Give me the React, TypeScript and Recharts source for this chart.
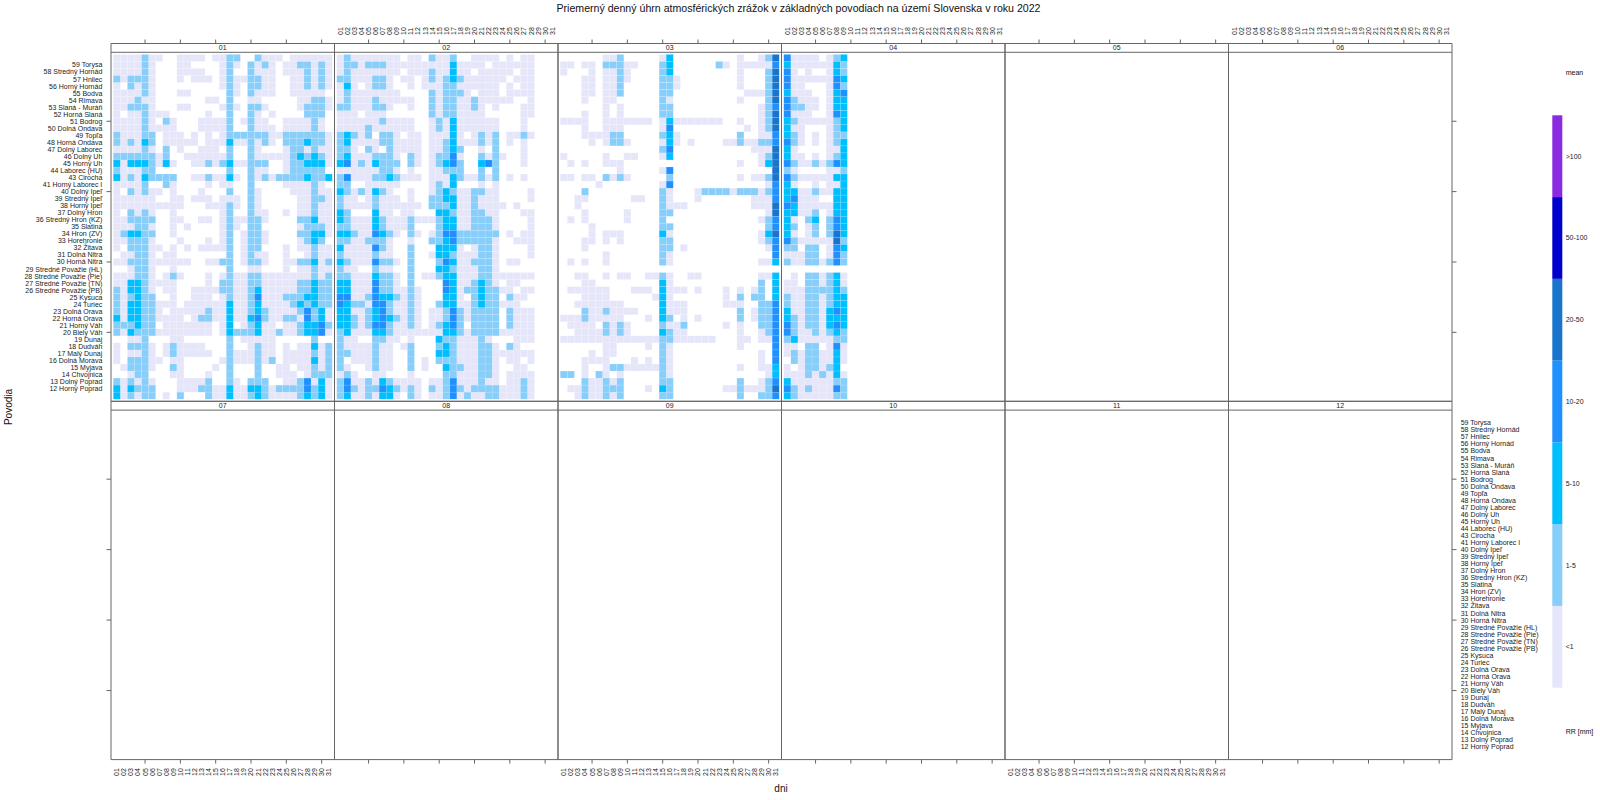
import { ScatterChart, Scatter, XAxis, YAxis, ReferenceLine, BarChart, Bar } from 'recharts'

const basins = [
  '59 Torysa', '58 Stredný Hornád', '57 Hnilec', '56 Horný Hornád', '55 Bodva', '54 Rimava', '53 Slaná - Muráň', '52 Horná Slaná',
  '51 Bodrog', '50 Dolná Ondava', '49 Topľa', '48 Horná Ondava', '47 Dolný Laborec', '46 Dolný Uh', '45 Horný Uh', '44 Laborec (HU)',
  '43 Cirocha', '41 Horný Laborec I', '40 Dolný Ipeľ', '39 Stredný Ipeľ', '38 Horný Ipeľ', '37 Dolný Hron', '36 Stredný Hron (KZ)',
  '35 Slatina', '34 Hron (ZV)', '33 Horehronie', '32 Žitava', '31 Dolná Nitra', '30 Horná Nitra', '29 Stredné Považie (HL)',
  '28 Stredné Považie (Pie)', '27 Stredné Považie (TN)', '26 Stredné Považie (PB)', '25 Kysuca', '24 Turiec', '23 Dolná Orava',
  '22 Horná Orava', '21 Horný Váh', '20 Biely Váh', '19 Dunaj', '18 Dudváh', '17 Malý Dunaj', '16 Dolná Morava', '15 Myjava',
  '14 Chvojnica', '13 Dolný Poprad', '12 Horný Poprad',
]

const levelLabels = ['<1', '1-5', '5-10', '10-20', '20-50', '50-100', '>100']
const levelColors = ['#E6E6FA', '#87CEFA', '#00BFFF', '#1E90FF', '#1874CD', '#0000CD', '#8A2BE2']
const months = ['01', '02', '03', '04', '05', '06', '07', '08', '09', '10', '11', '12']
const days = Array.from({ length: 31 }, (_, i) => i + 1)

// one string per row, top to bottom, one character per day: '.' = no rain, digit = index into levelLabels
const jan = [
  '0000100..0000.0011..1000.000000.',
  '000010...00....010.1010.0011010',
  '000010...0000..01..1000.0001010',
  '101110...0.000.01001100..001010',
  '0.1010.........010.1100..001010',
  '000010...00.....10.1000..00000.',
  '000100.......00.1..00.....00110',
  '001110...00....010.110....01110',
  '0.001000.....0..1..10.0....111.',
  '000010.10...00001.0100..000010.',
  '000010000...00001..1000.000010.',
  '100011.000.0.0.0111111001111110',
  '101021.00000.0002001010.1112110',
  '000010.1.0..000.1..10...0110100',
  '11111101..0000001..100000121210',
  '202221020..00101200111..0112220',
  '100011..........1..100..011111.',
  '201021111..0010020.101011112112',
  '00001..10....0.00..1....000010.',
  '0.10100.0...0...1..10....000100',
  '000000..00.000.000.10.....00110',
  '0000000000...00010.10.....00100',
  '0.1010..0......01..100..0.00100',
  '001111..00..00.0100110....11200',
  '000110..0.0....010.11.....01110',
  '012211..0......01.0110....11220',
  '001110...0...0.01.0110....0121.',
  '0.11100.0.0.00001.011...0.00100',
  '.00110.00.......1.0100..0..0100',
  '00111000000..0011.0110..0011201',
  '..0110..0.......1..00...0.00100',
  '000110.010...0.0100110000000101',
  '002210000....0.1100110000011211',
  '102210.00..00001100120000011211',
  '101211..0..000.0100130001112211',
  '102211000.000000200120000121211',
  '1022110.00000100200121000013120',
  '2022110000.01100200231001103120',
  '111211.0000000.02.01200.0012231',
  '10211100000000.0211120010012230',
  '..001...00......1.00000.....1..',
  '0.1110.010000...1..0100.0.00201',
  '0.0010.0100000..1000100.0000101',
  '0.11100.00.....01000101.0000201',
  '.01110..10....0.1...1..00.00101',
  '..011...00...0..1...1..000.0111',
  '101010...00001..10.111..0013020',
  '202111...0001100200221011113120',
  '201011.0.1...100200121000012120',
]

const feb = [
  '010000000.00.1001..0000.0.00',
  '011011100000000020000.000000',
  '010000000.000100200.00000.00',
  '11000110.00.010121000000.000',
  '020.0110..0.00011000000.0.00',
  '010000000....101110.000.0000',
  '01000100000..101100100000..0',
  '11000110..0..10110010.0...00',
  '000.000......10110000.....00',
  '00000010000..0102000000...0.',
  '00001000000..0102000000...0.',
  '12101.110.00.00020.0101.0010',
  '120000110000.0012000101.0.0.',
  '110.10.10000.00121..0.1...0.',
  '120001110.10.01130..1010..0.',
  '230102111.10.01231..231...0.',
  '000000110.0..00111..1.1.....',
  '130001121000.0002100101.0.0.',
  '11..00000....0102...0.0.....',
  '21010210..0..0121001100....0',
  '100.01000.0..1122001000....0',
  '100001000000.11120010000.0..',
  '21...200.00...221001100...00',
  '21000210001000122001110....0',
  '11000210001...122001110....0',
  '221003210.10.0133111111.0.00',
  '11001110..0..1123111110..000',
  '20000310..1...2220.0110....0',
  '10000100..1..0221000110....0',
  '210003110.1...132001110.00..',
  '100..100..1...221000110.....',
  '110002110.1.0012200011000000',
  '220003110.1....32001210.00..',
  '220003110010...3201121100.00',
  '330013221010...220.1211.100.',
  '321103310010..122001211000..',
  '220012310010.0013101111.1000',
  '221012321010.0013101111.1000',
  '221013310010.01231.1111.1000',
  '1200022100000002210111100000',
  '100..1100.0...21100010...000',
  '10000100.01...121000110.10..',
  '11000100..1...22100011000000',
  '1.000100..1.0.111000110.00.0',
  '10..0100..1.0..21100110..00.',
  '010..00...0....11000110.0000',
  '130010210000.0013000100.0010',
  '131011321010.101310111100010',
  '120010220.10.001301001100010',
]

const mar = [
  '......001.....02.........0..014',
  '00.00.11100...12......10.000003',
  '0...0.0010....12.........0...14',
  '...00.0010....110........0...14',
  '...00.001.....110........0...14',
  '...00.001.....11..........00014',
  '...0..00......10.........0...14',
  '......0.0.....11............013',
  '...0..0.0.....11............014',
  '0000..0000000.020000000..0..014',
  '...0..000.....03..........0.014',
  '...000011.....120........1..003',
  '....0.0110....020.0....00100113',
  '..............13...........0004',
  '0.....0..00...02............014',
  '.0.0..000................0..024',
  '........0.....03..............4',
  '00.00.1010.....1.........0.0014',
  '.....0........03.............03',
  '...1..........10...011110111013',
  '..00......00..10...0.......0003',
  '..0...........1000.........0004',
  '...0.....0....11.............04',
  '.0.0.....0....1.............013',
  '....0.........11.............13',
  '....0.000.....20............024',
  '...00.0.0.....11............013',
  '...0..........11.0...........03',
  '......0.......10..............3',
  '.0.0..0.......10............002',
  '...............................',
  '..00..0.00..0010..00........002',
  '...00.........20............1.2',
  '.000000...000.2000.0...0.0.01.2',
  '...0000......020.......0.1.11.2',
  '..0000000.....2000.....000..113',
  '...10010000...2000.......1.0113',
  '000100000...0.21.0.0.....1.0113',
  '.0000.1010....1001.....0.0..113',
  '..00001010....2100.......0..013',
  '0000000000000011000000...00.003',
  '......00....0.10.........0....3',
  '....0.00......10............0.3',
  '...0000...0.0.10............0.3',
  '...0..0110000010.........0..002',
  '11.0.10.0.....10.............02',
  '...100101.....11.........1..013',
  '.00100111...0.21.......00100014',
  '..0100101.....11.........1..113',
]

const apr = [
  '30000.012', '200000021', '30.0..021', '300000032', '300...031', '2000..023', '31000.022',
  '31100.022', '3000..032', '210000012', '200...012', '210.0.011', '310.0.012', '20....002',
  '200.0.012', '310010132', '10....001', '310000022', '20..0.002', '220010022', '23000..22',
  '320000022', '22001.022', '20.12.132', '21.01.132', '20.01.142', '310000041', '11.11.032',
  '00011.031', '100110131', '.........', '.0.110120', '00.110120', '000111121', '100110122',
  '100110122', '200110232', '210110222', '310110232', '310010121', '120000011', '00.11.030',
  '010110020', '.10110020', '0.011012.', '000101020', '200000011', '310100031', '210000011',
]

const monthRows: string[][] = [jan, feb, mar, apr]

// keeps the axes alive in the months that have no data yet, draws nothing
const axisAnchors = [
  { day: 1, row: 1 },
  { day: 31, row: 49 },
]

const panelLeft = 111
const panelWidth = 223.5
const rowEdges = [43.5, 401.3, 759.6]
const cellW = 7.06
const cellH = 7.04
const textColor = '#222'
const lineColor = '#666'
const font = 'Liberation Sans, Arial, sans-serif'

function cellsFor(rows: string[] | undefined, level: number) {
  const out: { day: number; row: number }[] = []
  ;(rows || []).forEach((s, r) => {
    s.split('').forEach((c, d) => {
      if (c === String(level)) out.push({ day: d + 1, row: 49 - r })
    })
  })
  return out
}

function CellShape(props: any) {
  return (
    <rect
      x={props.cx - cellW / 2}
      y={props.cy - cellH / 2}
      width={cellW}
      height={cellH}
      fill={props.fill}
      stroke="#fff"
      strokeOpacity={0.25}
      strokeWidth={0.5}
    />
  )
}

function XTick({ x, y, payload, side, showLabel }: any) {
  const day = payload.value
  const dir = side === 'top' ? -1 : 1
  const labelY = y + dir * 8.5
  return (
    <g>
      {day % 5 === 0 && <line x1={x} x2={x} y1={y} y2={y + dir * 4} stroke={lineColor} />}
      {showLabel && (
        <text
          x={x}
          y={labelY}
          transform={`rotate(-90 ${x} ${labelY})`}
          textAnchor={side === 'top' ? 'start' : 'end'}
          dominantBaseline="central"
          fontSize={7}
          fontFamily={font}
          fill={textColor}
        >
          {String(day).padStart(2, '0')}
        </text>
      )}
    </g>
  )
}

function YTick({ x, y, payload, side, showLabel }: any) {
  const row = payload.value
  const dir = side === 'left' ? -1 : 1
  return (
    <g>
      {row % 10 === 0 && <line x1={x} x2={x + dir * 4.5} y1={y} y2={y} stroke={lineColor} />}
      {showLabel && (
        <text
          x={x + dir * 8.7}
          y={y}
          textAnchor={side === 'left' ? 'end' : 'start'}
          dominantBaseline="central"
          fontSize={7}
          fontFamily={font}
          fill={textColor}
        >
          {basins[48 - row]}
        </text>
      )}
    </g>
  )
}

function Panel({ index }: { index: number }) {
  const col = index % 6
  const rowIdx = index < 6 ? 0 : 1
  const left = panelLeft + col * panelWidth
  const top = rowEdges[rowIdx]
  const bottom = rowEdges[rowIdx + 1]
  const xSide = rowIdx === 0 ? 'top' : 'bottom'
  const showX = col % 2 === (rowIdx === 0 ? 1 : 0)
  const yTicks = Array.from({ length: 47 }, (_, i) => i + 2)
  return (
    <div style={{ position: 'absolute', left: 0, top: 0 }}>
      <ScatterChart
        width={1600}
        height={800}
        margin={{ left: left - 1, right: 1600 - left - panelWidth - 1, top: top - 1, bottom: 800 - bottom - 1 }}
      >
        <XAxis
          xAxisId="x"
          dataKey="day"
          type="number"
          orientation={xSide}
          domain={[0.18, 31.82]}
          ticks={days}
          interval={0}
          height={1}
          tickSize={0}
          tickMargin={0}
          tickLine={false}
          axisLine={{ stroke: lineColor }}
          tick={(p: any) => <XTick {...p} side={xSide} showLabel={showX} />}
        />
        <XAxis
          xAxisId="x2"
          dataKey="day"
          type="number"
          orientation={xSide === 'top' ? 'bottom' : 'top'}
          domain={[0.18, 31.82]}
          ticks={days}
          interval={0}
          height={1}
          tickLine={false}
          tick={false}
          axisLine={{ stroke: lineColor }}
        />
        <YAxis
          yAxisId="y"
          dataKey="row"
          type="number"
          orientation="left"
          domain={[0.2, 51.05]}
          ticks={yTicks}
          interval={0}
          width={1}
          tickSize={0}
          tickMargin={0}
          tickLine={false}
          axisLine={{ stroke: lineColor }}
          tick={col === 0 ? (p: any) => <YTick {...p} side="left" showLabel={rowIdx === 0} /> : false}
        />
        <YAxis
          yAxisId="y2"
          dataKey="row"
          type="number"
          orientation="right"
          domain={[0.2, 51.05]}
          ticks={yTicks}
          interval={0}
          width={1}
          tickSize={0}
          tickMargin={0}
          tickLine={false}
          axisLine={{ stroke: lineColor }}
          tick={col === 5 ? (p: any) => <YTick {...p} side="right" showLabel={rowIdx === 1} /> : false}
        />
        <ReferenceLine xAxisId="x" yAxisId="y" y={49.8} stroke={lineColor} />
        <ReferenceLine
          xAxisId="x"
          yAxisId="y"
          y={50.43}
          stroke="none"
          label={{ value: months[index], position: 'center', fontSize: 7, fontFamily: font, fill: textColor }}
        />
        <Scatter xAxisId="x" yAxisId="y" data={axisAnchors} shape={() => null} isAnimationActive={false} />
        <Scatter xAxisId="x2" yAxisId="y2" data={axisAnchors} shape={() => null} isAnimationActive={false} />
        {levelColors.map((color, level) => (
          <Scatter
            key={level}
            xAxisId="x"
            yAxisId="y"
            data={cellsFor(monthRows[index], level)}
            fill={color}
            shape={CellShape}
            isAnimationActive={false}
          />
        ))}
      </ScatterChart>
    </div>
  )
}

const legendData = [{ name: 'mean', a0: 1, a1: 1, a2: 1, a3: 1, a4: 1, a5: 1, a6: 1 }]

function LegendBar() {
  return (
    <div style={{ position: 'absolute', left: 0, top: 0 }}>
      <BarChart
        width={1600}
        height={800}
        data={legendData}
        barCategoryGap={0}
        margin={{ left: 1552.3, right: 0, top: 115.3, bottom: 112.3 }}
      >
        <XAxis dataKey="name" hide />
        <YAxis
          orientation="right"
          type="number"
          domain={[0, 7]}
          ticks={[0.5, 1.5, 2.5, 3.5, 4.5, 5.5, 6.5]}
          interval={0}
          width={37.7}
          axisLine={false}
          tickLine={false}
          tickSize={0}
          tickMargin={3.4}
          tickFormatter={(v: number) => levelLabels[Math.floor(v)]}
          tick={{ fontSize: 7, fontFamily: font, fill: textColor, textAnchor: 'start' }}
        />
        {levelColors.map((color, i) => (
          <Bar key={i} dataKey={`a${i}`} stackId="s" fill={color} isAnimationActive={false} />
        ))}
      </BarChart>
    </div>
  )
}

function Note({ x, y, size, rotate, center, children }: any) {
  return (
    <div
      style={{
        position: 'absolute',
        left: x,
        top: y,
        fontSize: size,
        fontFamily: font,
        color: '#111',
        lineHeight: 1,
        whiteSpace: 'nowrap',
        transform: `translate(${center ? '-50%' : '0'}, -50%)${rotate ? ' rotate(-90deg)' : ''}`,
      }}
    >
      {children}
    </div>
  )
}

export default function App() {
  return (
    <div style={{ position: 'absolute', left: 0, top: 0, width: 1600, height: 800, background: '#fff', overflow: 'hidden' }}>
      {months.map((_, i) => (
        <Panel key={i} index={i} />
      ))}
      <LegendBar />
      <Note x={798.5} y={8} size={10.6} center>
        Priemerný denný úhrn atmosférických zrážok v základných povodiach na území Slovenska v roku 2022
      </Note>
      <Note x={9} y={407} size={10} center rotate>
        Povodia
      </Note>
      <Note x={781} y={789} size={10} center>
        dni
      </Note>
      <Note x={1565.7} y={72.3} size={7}>
        mean
      </Note>
      <Note x={1565.7} y={731} size={7}>
        RR [mm]
      </Note>
    </div>
  )
}
